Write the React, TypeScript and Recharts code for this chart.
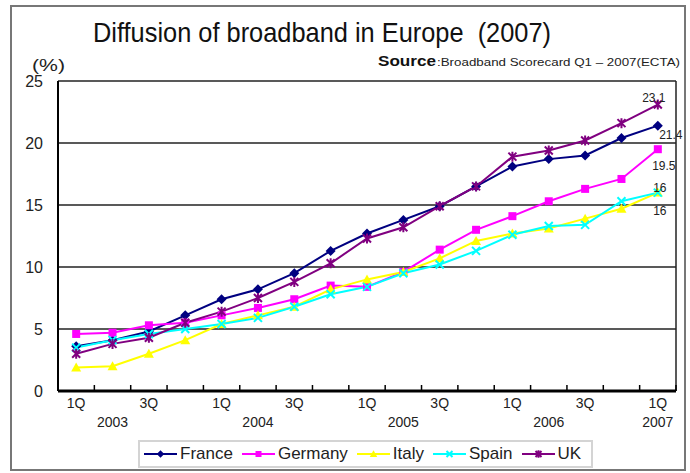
import React from 'react';
import { LineChart, Line, XAxis, YAxis, CartesianGrid, Legend, ReferenceLine, LabelList } from 'recharts';

const quarterLabels = ['1Q', '', '3Q', '', '1Q', '', '3Q', '', '1Q', '', '3Q', '', '1Q', '', '3Q', '', '1Q'];
const yearLabels = ['', '2003', '', '', '', '2004', '', '', '', '2005', '', '', '', '2006', '', '', '2007'];

const france = [3.6, 4.1, 4.8, 6.1, 7.4, 8.2, 9.5, 11.3, 12.7, 13.8, 14.9, 16.5, 18.1, 18.7, 19.0, 20.4, 21.4];
const germany = [4.6, 4.7, 5.3, 5.5, 6.1, 6.7, 7.4, 8.5, 8.4, 9.6, 11.4, 13.0, 14.1, 15.3, 16.3, 17.1, 19.5];
const italy = [1.9, 2.0, 3.0, 4.1, 5.4, 6.1, 6.8, 8.2, 9.0, 9.6, 10.7, 12.1, 12.7, 13.1, 13.9, 14.7, 16];
const spain = [3.5, 4.1, 4.6, 5.0, 5.4, 5.9, 6.8, 7.8, 8.4, 9.5, 10.2, 11.3, 12.6, 13.3, 13.4, 15.3, 16];
const uk = [3.0, 3.8, 4.3, 5.5, 6.4, 7.5, 8.8, 10.3, 12.3, 13.2, 14.9, 16.5, 18.9, 19.4, 20.2, 21.6, 23.1];

const yTicks = [0, 5, 10, 15, 20, 25];

const data = quarterLabels.map((q, i) => ({
  i,
  France: france[i],
  Germany: germany[i],
  Italy: italy[i],
  Spain: spain[i],
  UK: uk[i],
}));

const xTicks: number[] = [];
for (let k = -1; k <= 2 * (quarterLabels.length - 1) + 1; k++) xTicks.push(k / 2);

const FONT = '"Liberation Sans", Arial, sans-serif';

type Shape = 'diamond' | 'square' | 'triangle' | 'x' | 'star';

const series: { key: string; color: string; shape: Shape; labelDx: number; labelDy: number }[] = [
  { key: 'France', color: '#000080', shape: 'diamond', labelDx: 13, labelDy: 13 },
  { key: 'Germany', color: '#FF00FF', shape: 'square', labelDx: 6, labelDy: 21 },
  { key: 'Italy', color: '#FFFF00', shape: 'triangle', labelDx: 2, labelDy: 22 },
  { key: 'Spain', color: '#00FFFF', shape: 'x', labelDx: 2, labelDy: -1 },
  { key: 'UK', color: '#800080', shape: 'star', labelDx: -4, labelDy: -3 },
];

function Marker({ shape, color, cx, cy, s = 1 }: { shape: Shape; color: string; cx: number; cy: number; s?: number }) {
  if (cx == null || cy == null) return null;
  switch (shape) {
    case 'diamond':
      return <polygon points={`${cx},${cy - 5 * s} ${cx + 5 * s},${cy} ${cx},${cy + 5 * s} ${cx - 5 * s},${cy}`} fill={color} />;
    case 'square':
      return <rect x={cx - 4 * s} y={cy - 4 * s} width={8 * s} height={8 * s} fill={color} />;
    case 'triangle':
      return <polygon points={`${cx},${cy - 5 * s} ${cx + 5 * s},${cy + 4 * s} ${cx - 5 * s},${cy + 4 * s}`} fill={color} />;
    case 'x':
      return (
        <path
          d={`M${cx - 4 * s},${cy - 4 * s}L${cx + 4 * s},${cy + 4 * s}M${cx - 4 * s},${cy + 4 * s}L${cx + 4 * s},${cy - 4 * s}`}
          stroke={color}
          strokeWidth={2}
          fill="none"
        />
      );
    case 'star':
      return (
        <path
          d={`M${cx - 4 * s},${cy - 4 * s}L${cx + 4 * s},${cy + 4 * s}M${cx - 4 * s},${cy + 4 * s}L${cx + 4 * s},${cy - 4 * s}M${cx},${cy - 5 * s}L${cx},${cy + 5 * s}`}
          stroke={color}
          strokeWidth={2}
          fill="none"
        />
      );
  }
  return null;
}

const XTick = (props: any) => {
  const { x, y, payload } = props;
  const v = payload.value;
  if (!Number.isInteger(v)) {
    return <line x1={x} x2={x} y1={y} y2={y - 6} stroke="#000" strokeWidth={1.5} />;
  }
  return (
    <g>
      <text x={x} y={y + 17} textAnchor="middle" fontSize={14} fontFamily={FONT} fill="#222">
        {quarterLabels[v]}
      </text>
      <text x={x} y={y + 36} textAnchor="middle" fontSize={14} fontFamily={FONT} fill="#222">
        {yearLabels[v]}
      </text>
    </g>
  );
};

const LegendContent = () => (
  <div
    style={{
      boxSizing: 'border-box',
      width: 455,
      height: 28,
      border: '2px solid #d4d4d4',
      display: 'flex',
      alignItems: 'center',
      paddingLeft: 4,
      fontFamily: FONT,
      fontSize: 17,
      color: '#222',
      background: '#fff',
    }}
  >
    {series.map((s) => (
      <div key={s.key} style={{ display: 'flex', alignItems: 'center', marginRight: 9 }}>
        <svg width={33} height={14} style={{ marginRight: 3 }}>
          <line x1={0} x2={33} y1={7} y2={7} stroke={s.color} strokeWidth={2} />
          <Marker shape={s.shape} color={s.color} cx={16.5} cy={7} s={0.75} />
        </svg>
        <span>{s.key}</span>
      </div>
    ))}
  </div>
);

export default function App() {
  return (
    <div style={{ position: 'absolute', left: 0, top: 0, width: 690, height: 473, background: '#fff' }}>
      <LineChart width={690} height={473} data={data} margin={{ top: 81, right: 14, left: 18, bottom: 5 }}>
        <CartesianGrid vertical={false} stroke="#222" strokeWidth={1.3} />
        <XAxis
          type="number"
          dataKey="i"
          domain={[-0.5, quarterLabels.length - 0.5]}
          ticks={xTicks}
          interval={0}
          tickLine={false}
          tickSize={0}
          tickMargin={0}
          height={49}
          axisLine={{ stroke: '#000', strokeWidth: 3 }}
          tick={<XTick />}
        />
        <YAxis
          domain={[0, 25]}
          ticks={yTicks}
          interval={0}
          width={40}
          tickLine={false}
          tickSize={0}
          tickMargin={15}
          axisLine={{ stroke: '#000', strokeWidth: 2 }}
          tick={{ fontSize: 16, fill: '#222', fontFamily: FONT }}
        />
        <ReferenceLine x={quarterLabels.length - 0.5} stroke="#222" strokeWidth={1.5} />
        {series.map((s) => (
          <Line
            key={s.key}
            dataKey={s.key}
            stroke={s.color}
            strokeWidth={2}
            isAnimationActive={false}
            dot={(p: any) => <Marker key={`${s.key}-${p.index}`} shape={s.shape} color={s.color} cx={p.cx} cy={p.cy} />}
            activeDot={false}
          >
            <LabelList
              dataKey={s.key}
              content={(p: any) =>
                p.index === quarterLabels.length - 1 ? (
                  <text
                    x={p.x + s.labelDx}
                    y={p.y + s.labelDy}
                    textAnchor="middle"
                    fontSize={12}
                    fontFamily={FONT}
                    fill="#222"
                  >
                    {p.value}
                  </text>
                ) : null
              }
            />
          </Line>
        ))}
        <Legend
          verticalAlign="bottom"
          content={<LegendContent />}
          wrapperStyle={{ left: 138, width: 455, height: 28 }}
        />
      </LineChart>
      <svg
        width={690}
        height={473}
        style={{ position: 'absolute', left: 0, top: 0, pointerEvents: 'none' }}
      >
        <rect x={11} y={6} width={674} height={464} fill="none" stroke="#777" strokeWidth={2} />
        <text x={93} y={42} fontSize={28} fontFamily={FONT} fill="#111" textLength={458} lengthAdjust="spacingAndGlyphs" xmlSpace="preserve">
          {'Diffusion of broadband in Europe\u00A0 (2007)'}
        </text>
        <text x={378} y={66} fontSize={14} fontWeight="bold" fontFamily={FONT} fill="#111" textLength={58} lengthAdjust="spacingAndGlyphs">
          Source
        </text>
        <text x={437} y={66} fontSize={11} fontFamily={FONT} fill="#222" textLength={243} lengthAdjust="spacingAndGlyphs">
          :Broadband Scorecard Q1 – 2007(ECTA)
        </text>
        <text x={32} y={71} fontSize={16} fontFamily={FONT} fill="#222" textLength={33} lengthAdjust="spacingAndGlyphs">
          (%)
        </text>
      </svg>
    </div>
  );
}
